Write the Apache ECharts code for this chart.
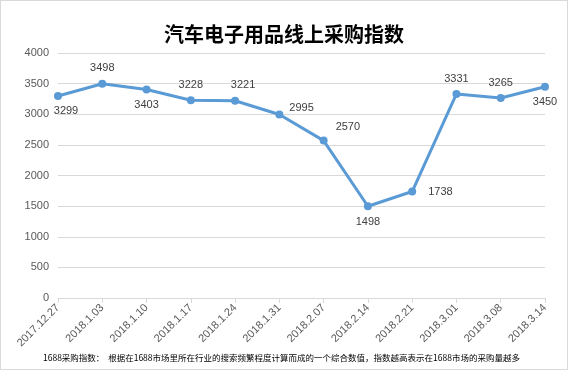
<!DOCTYPE html>
<html><head><meta charset="utf-8">
<script src="https://cdn.jsdelivr.net/npm/echarts@6/dist/echarts.min.js"></script>
<style>html,body{margin:0;padding:0;background:#fff}#c{width:568px;height:370px;box-sizing:border-box;border:1px solid #d9d9d9}</style>
</head><body><div id="c"></div>
<script>
const categories = ['2017.12.27','2018.1.03','2018.1.10','2018.1.17','2018.1.24','2018.1.31','2018.2.07','2018.2.14','2018.2.21','2018.3.01','2018.3.08','2018.3.14'];
const values = [3299,3498,3403,3228,3221,2995,2570,1498,1738,3331,3265,3450];
const yTicks = [0,500,1000,1500,2000,2500,3000,3500,4000];
const labelPos = ['bottom','top','bottom','top','top','right','right','bottom','right','top','top','bottom'];
const labelOff = [[8,0],[0,0],[0,0],[0,0],[8,0],[0,-7],[2,-14],[0,0],[6,0],[0,0],[0,0],[0,0]];
const titleText = '汽车电子用品线上采购指数';
const noteText = '1688采购指数：  根据在1688市场里所在行业的搜索频繁程度计算而成的一个综合数值，指数越高表示在1688市场的采购量越多';
const font = '"Microsoft YaHei","Noto Sans CJK SC",sans-serif';
const chart = echarts.init(document.getElementById('c'), null, {renderer:'canvas'});
chart.setOption({
  animation:false,
  title:{text:titleText,left:'center',top:18,textStyle:{fontSize:20,fontWeight:'bold',color:'#000',fontFamily:font}},
  graphic:[{type:'text',left:42,top:353,style:{text:noteText,fontSize:8.5,fill:'#000',fontFamily:font}}],
  grid:{left:57,right:22,top:52,bottom:71,containLabel:false},
  xAxis:{type:'category',data:categories,boundaryGap:false,
    axisLine:{lineStyle:{color:'#d9d9d9'}},
    axisTick:{show:true,alignWithLabel:true,lineStyle:{color:'#d9d9d9'},length:5},
    axisLabel:{rotate:45,color:'#595959',fontSize:11,fontFamily:'"Liberation Sans",Arial,sans-serif',margin:8,interval:0}},
  yAxis:{type:'value',min:0,max:4000,interval:500,
    axisLine:{show:false},axisTick:{show:false},
    splitLine:{lineStyle:{color:'#d9d9d9'}},
    axisLabel:{color:'#595959',fontSize:11,fontFamily:'"Liberation Sans",Arial,sans-serif',margin:9,
      formatter:v=>yTicks.includes(v)?String(v):''}},
  series:[{type:'line',data:values.map((v,i)=>({value:v,label:{position:labelPos[i],offset:labelOff[i]}})),
    symbol:'circle',symbolSize:8,
    lineStyle:{color:'#5B9BD5',width:3},itemStyle:{color:'#5B9BD5'},
    label:{show:true,color:'#404040',fontSize:11,fontFamily:'"Liberation Sans",Arial,sans-serif',distance:6}}]
});
</script></body></html>
